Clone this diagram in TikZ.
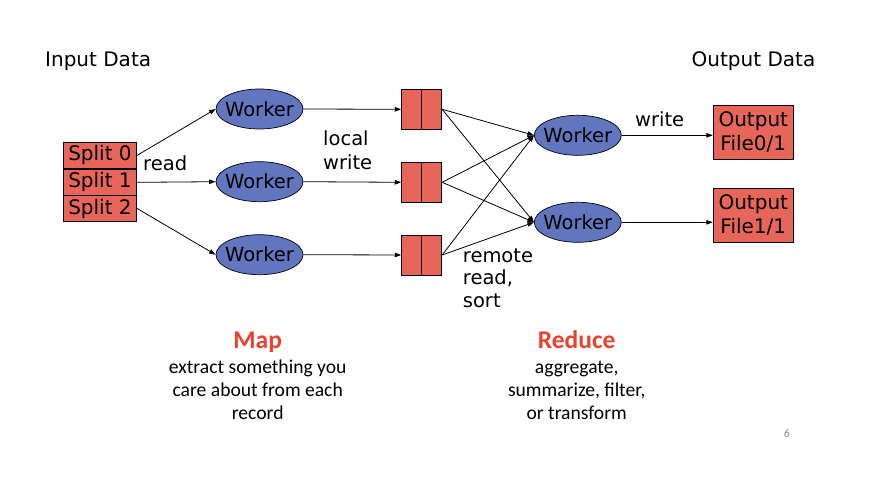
\documentclass[tikz,border=0pt]{standalone}
\usepackage{fontspec}
\setmainfont{DejaVu Sans}
\newfontfamily\calibri{Carlito}
\usetikzlibrary{arrows.meta,shapes.geometric}
\definecolor{boxred}{RGB}{232,101,90}
\definecolor{workerblue}{RGB}{98,118,192}
\definecolor{mapred}{RGB}{233,67,48}
\definecolor{pagegrey}{RGB}{140,140,140}
\newcommand\wkrtext{\makebox[0pt][c]{Worker}}
\tikzset{
  diag/.style={font=\fontsize{19.5}{23}\selectfont},
  splitbox/.style={draw=black,line width=0.9pt,fill=boxred,minimum width=73.4pt,minimum height=26.6pt,inner sep=0pt,diag,font=\fontsize{20}{24}\selectfont},
  worker/.style={ellipse,draw=black,line width=0.7pt,fill=workerblue,minimum width=87pt,minimum height=40pt,inner sep=0pt,diag},
  buffer/.style={draw=black,line width=0.9pt,fill=boxred,minimum width=40pt,minimum height=40pt,inner sep=0pt},
  outbox/.style={draw=black,line width=0.9pt,fill=boxred,minimum width=80pt,minimum height=54pt,inner sep=0pt,align=center,font=\fontsize{20}{24}\selectfont},
  lbl/.style={anchor=base west,inner sep=0pt,diag},
  head/.style={anchor=base west,inner sep=0pt,font=\fontsize{20}{24}\selectfont},
  captext/.style={anchor=base,inner sep=0pt,font=\calibri\fontsize{19.6}{23}\selectfont},
  captitle/.style={anchor=base,inner sep=0pt,text=mapred,font=\calibri\bfseries\fontsize{25.5}{30}\selectfont},
  conn/.style={line width=0.8pt,-{Triangle[length=6.5pt,width=4.5pt]}}
}
\begin{document}
\begin{tikzpicture}[x=1pt,y=-1pt]
\useasboundingbox[fill=white] (0,0) rectangle (895,478);

% headers
\node[head] (indata) at (45,66.5) {Input Data};
\node[head] (outdata) at (691.5,66.5) {Output Data};

% splits
\node[splitbox] (s0) at (100,155.35) {Split 0};
\node[splitbox] (s1) at (100,182.35) {Split 1};
\node[splitbox] (s2) at (100,208.5) {Split 2};

% map workers
\node[worker] (w1) at (259.5,109) {\wkrtext};
\node[worker] (w2) at (259.5,181.7) {\wkrtext};
\node[worker] (w3) at (259.5,254.7) {\wkrtext};

% buffers
\node[buffer] (b1) at (421.7,109.3) {};
\node[buffer] (b2) at (421.7,182.3) {};
\node[buffer] (b3) at (421.7,255) {};
\foreach \b in {b1,b2,b3}{\draw[line width=0.9pt] (\b.north) -- (\b.south);}

% reduce workers
\node[worker] (r1) at (577.8,135.3) {\wkrtext};
\node[worker] (r2) at (577.8,222.3) {\wkrtext};

% outputs
\node[outbox] (o1) at (753.3,132) {Output\\File0/1};
\node[outbox] (o2) at (753.3,215.3) {Output\\File1/1};

% connectors
\draw[conn] (s0.east) -- (w1.west);
\draw[conn] (s1.east) -- (w2.west);
\draw[conn] (s2.east) -- (w3.west);
\draw[conn] (w1.east) -- (b1.west);
\draw[conn] (w2.east) -- (b2.west);
\draw[conn] (w3.east) -- (b3.west);
\foreach \b in {b1,b2,b3}{
  \draw[conn] (\b.east) -- (r1.west);
  \draw[conn] (\b.east) -- (r2.west);
}
\draw[conn] (r1.east) -- (r1.east -| o1.west);
\draw[conn] (r2.east) -- (r2.east -| o2.west);

% labels
\node[lbl] (lread) at (143,170.5) {read};
\node[lbl] (llocal) at (323,146) {local};
\node[lbl] (lwrite) at (323,170) {write};
\node[lbl] (lwrite2) at (635,127) {write};
\node[lbl] (lremote) at (462.7,262.5) {remote};
\node[lbl] (lrread) at (462.7,285) {read,};
\node[lbl] (lsort) at (462.7,307.5) {sort};

% captions
\node[captitle] (map) at (257.7,348.3) {Map};
\node[captext] (m1) at (257.7,373.3) {extract something you};
\node[captext] (m2) at (257.7,396.3) {care about from each};
\node[captext] (m3) at (257.7,419.3) {record};
\node[captitle] (reduce) at (576.7,348.3) {Reduce};
\node[captext] (rd1) at (576.7,373.3) {aggregate,};
\node[captext] (rd2) at (576.7,396.3) {summarize, filter,};
\node[captext] (rd3) at (576.7,419.3) {or transform};

\node[anchor=base,inner sep=0pt,text=pagegrey,font=\calibri\fontsize{12}{14}\selectfont] (pnum) at (787,437.3) {6};
\end{tikzpicture}
\end{document}
